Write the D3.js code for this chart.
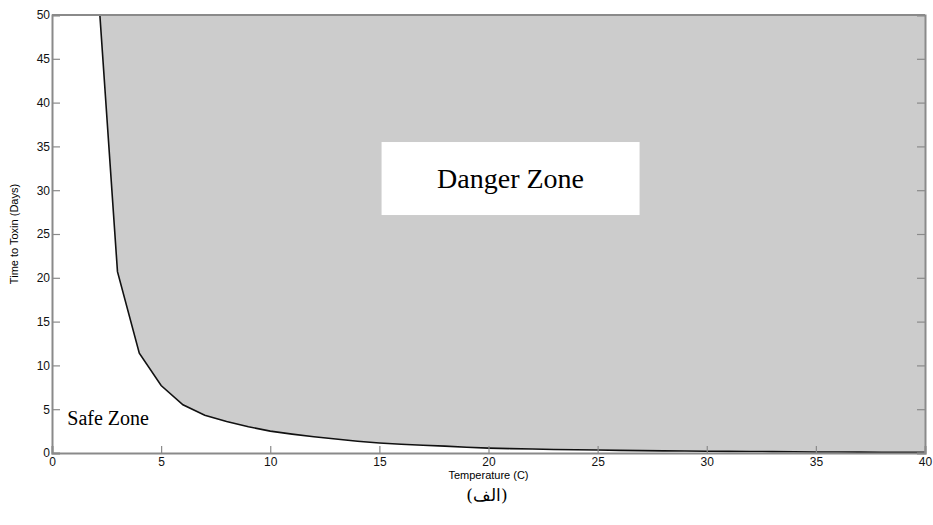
<!DOCTYPE html>
<html>
<head>
<meta charset="utf-8">
<script src="https://cdn.jsdelivr.net/npm/d3@7"></script>
<style>
  body { margin: 0; background: #fff; }
  svg { display: block; }
  .tick text { font-family: Arial, "Liberation Sans", sans-serif; font-size: 12px; fill: #111; }
</style>
</head>
<body>
<svg width="933" height="525"></svg>
<script>
// temperature (C) and time to toxin (days)
const temps = [2, 3, 4, 5, 6, 7, 8, 9, 10, 11, 12, 13, 14, 15, 16, 17, 18, 19, 20,
  21, 22, 23, 24, 25, 26, 27, 28, 29, 30, 31, 32, 33, 34, 35, 36, 37, 38, 39, 40]
const days = [57, 20.7, 11.4, 7.7, 5.5, 4.3, 3.6, 3.0, 2.5, 2.15, 1.85, 1.6, 1.35, 1.15, 1.0, 0.88, 0.78, 0.66, 0.56,
  0.5, 0.45, 0.4, 0.37, 0.34, 0.3, 0.27, 0.24, 0.22, 0.2, 0.18, 0.17, 0.16, 0.14, 0.12, 0.11, 0.1, 0.09, 0.08, 0.08]
const xTicks = [0, 5, 10, 15, 20, 25, 30, 35, 40]
const yTicks = [0, 5, 10, 15, 20, 25, 30, 35, 40, 45, 50]

const svg = d3.select('svg')
const margin = { left: 52, right: 8, top: 15, bottom: 72 }
const width = 933 - margin.left - margin.right
const height = 525 - margin.top - margin.bottom

const x = d3.scaleLinear().domain([0, 40]).range([0, width])
const y = d3.scaleLinear().domain([0, 50]).range([height, 0])

const g = svg.append('g').attr('transform', `translate(${margin.left},${margin.top})`)

g.append('clipPath').attr('id', 'plotClip')
  .append('rect').attr('width', width).attr('height', height)

const pts = temps.map((t, i) => ({ t, d: days[i] }))

// danger zone: between the curve and the top of the axes
const area = d3.area()
  .x((d) => x(d.t))
  .y0(y(60))
  .y1((d) => y(d.d))

const plot = g.append('g').attr('clip-path', 'url(#plotClip)')
plot.append('path')
  .datum(pts)
  .attr('d', area)
  .attr('fill', '#cccccc')

plot.append('path')
  .datum(pts)
  .attr('d', d3.line().x((d) => x(d.t)).y((d) => y(d.d)))
  .attr('fill', 'none')
  .attr('stroke', '#111')
  .attr('stroke-width', 1.6)

// axes, MATLAB style with inward ticks
const axisColor = '#8a8a8a'
const xAxis = g.append('g').attr('transform', `translate(0,${height})`)
  .call(d3.axisBottom(x).tickValues(xTicks).tickSize(-7).tickPadding(3))
const yAxis = g.append('g')
  .call(d3.axisLeft(y).tickValues(yTicks).tickSize(-8).tickPadding(5))
const yAxisR = g.append('g').attr('transform', `translate(${width},0)`)
  .call(d3.axisRight(y).tickValues(yTicks).tickSize(-8).tickFormat(''))

;[xAxis, yAxis, yAxisR].forEach((a) => {
  a.select('.domain').attr('stroke', axisColor).attr('stroke-width', 2)
  a.selectAll('.tick line').attr('stroke', axisColor).attr('stroke-width', 1.2)
})
xAxis.selectAll('.tick text').attr('dy', '0.8em')
yAxis.selectAll('.tick text').attr('dx', '3')

g.append('line')
  .attr('x1', 0).attr('x2', width).attr('y1', 0).attr('y2', 0)
  .attr('stroke', axisColor).attr('stroke-width', 2)

// labels
g.append('text')
  .attr('x', width / 2).attr('y', height + 26)
  .attr('text-anchor', 'middle')
  .style('font-family', 'Arial, "Liberation Sans", sans-serif')
  .style('font-size', '11px')
  .text('Temperature (C)')

g.append('text')
  .attr('transform', `translate(-34,${height / 2}) rotate(-90)`)
  .attr('text-anchor', 'middle')
  .style('font-family', 'Arial, "Liberation Sans", sans-serif')
  .style('font-size', '11px')
  .text('Time to Toxin (Days)')

// danger zone label box
const boxX = x(15.1), boxY = y(35.5)
g.append('rect')
  .attr('x', boxX).attr('y', boxY)
  .attr('width', 258).attr('height', 73)
  .attr('fill', '#fff')
g.append('text')
  .attr('x', boxX + 129).attr('y', boxY + 46)
  .attr('text-anchor', 'middle')
  .style('font-family', '"Liberation Serif", "Times New Roman", serif')
  .style('font-size', '28px')
  .text('Danger Zone')

g.append('text')
  .attr('x', x(0.7)).attr('y', y(3.2))
  .style('font-family', '"Liberation Serif", "Times New Roman", serif')
  .style('font-size', '20px')
  .text('Safe Zone')

svg.append('text')
  .attr('x', 487).attr('y', 501)
  .attr('text-anchor', 'middle')
  .style('font-family', '"DejaVu Serif", "Noto Sans", serif')
  .style('font-size', '17px')
  .text('(الف)')
</script>
</body>
</html>
